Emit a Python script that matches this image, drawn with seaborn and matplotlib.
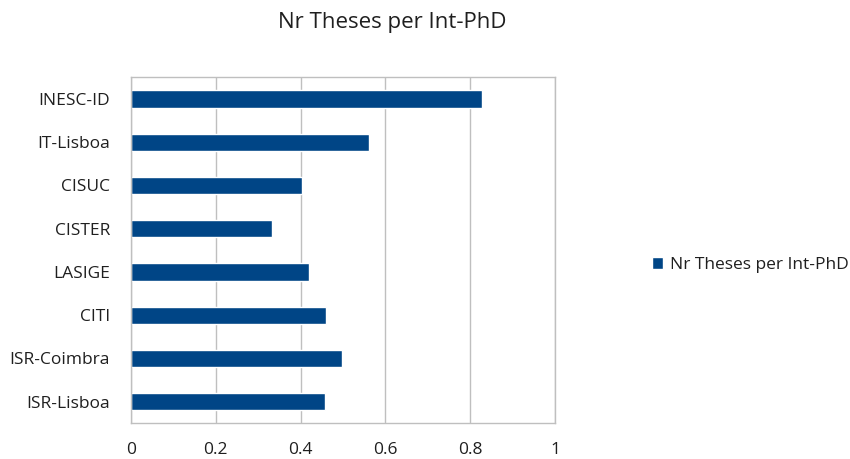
import matplotlib
matplotlib.use("Agg")
import matplotlib.pyplot as plt
import seaborn as sns
import pandas as pd

# data
institutes = ["INESC-ID", "IT-Lisboa", "CISUC", "CISTER",
              "LASIGE", "CITI", "ISR-Coimbra", "ISR-Lisboa"]
theses_per_phd = [0.828, 0.562, 0.403, 0.333, 0.421, 0.460, 0.498, 0.458]
x_ticks = [0, 0.2, 0.4, 0.6, 0.8, 1]
series_name = "Nr Theses per Int-PhD"

sns.set_theme(style="white")
plt.rcParams["font.family"] = ["Open Sans", "DejaVu Sans"]

bar_color = "#004586"
grid_color = "#bfbfbf"
text_color = "#1f1f1f"

df = pd.DataFrame({"Institute": institutes, "Value": theses_per_phd})

fig = plt.figure(figsize=(8.5, 4.59), dpi=100)
ax = fig.add_axes([0.1538, 0.0778, 0.4995, 0.7538])

sns.barplot(
    data=df,
    x="Value",
    y="Institute",
    color=bar_color,
    saturation=1,
    width=0.4,
    ax=ax,
    label=series_name,
)

ax.set_xlim(0, 1)
ax.set_ylim(len(institutes) - 0.5, -0.5)
ax.set_xticks(x_ticks)
ax.set_xticklabels([f"{t:g}" for t in x_ticks])
ax.xaxis.grid(True, color=grid_color, linewidth=1)
ax.set_axisbelow(True)

for side in ax.spines.values():
    side.set_color(grid_color)
    side.set_linewidth(1)

ax.set_xlabel("")
ax.set_ylabel("")
ax.tick_params(axis="both", length=0, labelsize=12.5, colors=text_color)
ax.tick_params(axis="x", pad=13.5)
ax.tick_params(axis="y", pad=15)

fig.text(0.462, 0.95, series_name, ha="center", va="center",
         fontsize=16, color=text_color)

ax.legend(
    loc="center left",
    bbox_to_anchor=(0.753, 0.422),
    bbox_transform=fig.transFigure,
    frameon=False,
    fontsize=12.5,
    handlelength=0.65,
    handleheight=0.65,
    handletextpad=0.35,
    borderpad=0.2,
    labelcolor=text_color,
)

fig.savefig("out.png", dpi=100)
